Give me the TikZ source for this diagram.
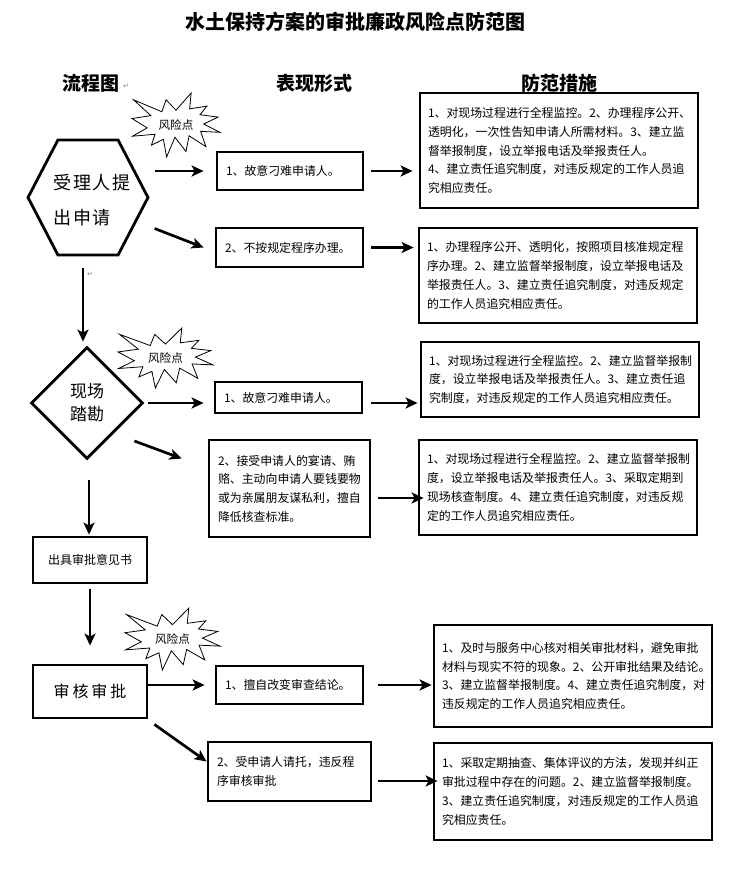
\documentclass[tikz,border=0pt]{standalone}
\usepackage{fontspec}
\setmainfont{Noto Sans CJK SC}
\newfontfamily\markfont{DejaVu Sans}
\usepackage{tikz}
\usetikzlibrary{arrows.meta}
\usetikzlibrary{positioning}
\usetikzlibrary{shapes.geometric}
\usetikzlibrary{shapes.symbols}
\newcommand{\boxfont}{\fontsize{11.9}{18.7}\selectfont}
\tikzset{flowarrow/.style = {line width = 2.7pt, -{Stealth[length=12pt, width=11pt, inset=3pt]}}}
\tikzset{measure/.style = {draw, line width = 2.8pt, inner xsep = 8pt, inner ysep = 0pt,
                           text width = 262pt, minimum width = 278pt, align = left, font = \boxfont}}
\tikzset{risk/.style = {draw, line width = 2.8pt, inner xsep = 9pt, inner ysep = 0pt,
                        align = left, font = \boxfont}}
\tikzset{stage/.style = {draw, line width = 2.8pt, minimum width = 114pt}}
\tikzset{header/.style = {font = \fontsize{19}{22}\selectfont\bfseries}}
\tikzset{starline/.style = {line width = 0.8pt, fill = white}}
\tikzset{retmark/.style = {font = \markfont\fontsize{7}{8}\selectfont, text = gray}}

% explosion shape with its label
\newcommand{\riskstar}[4]{%
  \begin{scope}[shift = {#2}, xscale = #3, yscale = #4]
    \draw [starline] plot coordinates {(0, -0.231) (-0.113, -0.394) (-0.161, -0.207) (-0.483, -0.394)
      (-0.286, -0.147) (-0.5, -0.101) (-0.328, 0.045) (-0.494, 0.175) (-0.238, 0.145) (-0.280, 0.316)
      (-0.143, 0.223) (-0.107, 0.5) (-0.012, 0.191) (0.113, 0.414) (0.149, 0.169) (0.340, 0.338)
      (0.280, 0.099) (0.5, 0.115) (0.315, -0.015) (0.477, -0.123) (0.273, -0.161) (0.351, -0.294)
      (0.155, -0.253) (0.172, -0.5)} -- cycle;
  \end{scope}
  \node [font = \fontsize{11.6}{13}\selectfont] (#1) at #2 {风险点};
}

\begin{document}
\begin{tikzpicture}[x = 1pt, y = -1pt]
    \fill [white] (0, 0) rectangle (728, 877);
    \useasboundingbox (0, 0) rectangle (728, 877);

    \node [font = \fontsize{20}{24}\selectfont\bfseries] (title) at (355, 22) {水土保持方案的审批廉政风险点防范图};
    \node [header] (flowhead) at (91, 83) {流程图};
    \node [retmark] (mark1) at (126, 86) {↵};
    \node [header] (riskhead) at (314, 83) {表现形式};
    \node [header] (measurehead) at (559, 83) {防范措施};

    % flow column
    \node [draw, line width = 2.8pt, signal, signal to = west and east, signal pointer angle = 125,
           minimum width = 120pt, minimum height = 115pt, inner sep = 0pt] (h) at (88, 197.5) {};
    \node [align = left, font = \fontsize{18}{35}\selectfont\addfontfeature{LetterSpace=8}] (hname) at (92, 200) {受理人提\\出申请};
    \node [retmark] (mark2) at (90, 274) {↵};
    \node [draw, line width = 2.8pt, diamond, minimum width = 112pt, minimum height = 112pt, inner sep = 0pt,
           align = center, font = \fontsize{17}{23}\selectfont] (d) at (87, 403) {现场\\踏勘};
    \node [stage, minimum height = 46pt, font = \fontsize{12}{14}\selectfont] (o) at (90, 560) {出具审批意见书};
    \node [stage, minimum height = 53pt, font = \fontsize{16}{18}\selectfont\addfontfeature{LetterSpace=18}] (a) at (90, 691.5) {审核审批};

    \riskstar{s1}{(176, 125)}{88}{64}
    \riskstar{s2}{(165.5, 358)}{95}{60}
    \riskstar{s3}{(172.5, 639)}{95}{62}

    % risk column
    \node [risk, text width = 128pt, minimum height = 38pt] (r1) at (290, 171) {1、故意刁难申请人。};
    \node [risk, text width = 129pt, minimum height = 39pt] (r2) at (289.5, 247.5) {2、不按规定程序办理。};
    \node [risk, text width = 129pt, minimum height = 31pt] (r3) at (288.5, 397.5) {1、故意刁难申请人。};
    \node [risk, text width = 143pt, minimum height = 97pt] (r4) at (289.5, 488.5) {2、接受申请人的宴请、贿\\赂、主动向申请人要钱要物\\或为亲属朋友谋私利，擅自\\降低核查标准。};
    \node [risk, text width = 129pt, minimum height = 38pt] (r5) at (289.5, 685) {1、擅自改变审查结论。};
    \node [risk, text width = 145pt, minimum height = 59pt] (r6) at (289.5, 771.5) {2、受申请人请托，违反程\\序审核审批};

    % measure column
    \node [measure, minimum height = 115pt] (m1) at (559, 150.5) {1、对现场过程进行全程监控。2、办理程序公开、\\透明化，一次性告知申请人所需材料。3、建立监\\督举报制度，设立举报电话及举报责任人。\\4、建立责任追究制度，对违反规定的工作人员追\\究相应责任。};
    \node [measure, minimum height = 95pt] (m2) at (558, 275.5) {1、办理程序公开、透明化，按照项目核准规定程\\序办理。2、建立监督举报制度，设立举报电话及\\举报责任人。3、建立责任追究制度，对违反规定\\的工作人员追究相应责任。};
    \node [measure, minimum height = 75pt] (m3) at (560, 379.5) {1、对现场过程进行全程监控。2、建立监督举报制\\度，设立举报电话及举报责任人。3、建立责任追\\究制度，对违反规定的工作人员追究相应责任。};
    \node [measure, minimum height = 95pt] (m4) at (558, 487.5) {1、对现场过程进行全程监控。2、建立监督举报制\\度，设立举报电话及举报责任人。3、采取定期到\\现场核查制度。4、建立责任追究制度，对违反规\\定的工作人员追究相应责任。};
    \node [measure, minimum height = 102pt] (m5) at (573, 676) {1、及时与服务中心核对相关审批材料，避免审批\\材料与现实不符的现象。2、公开审批结果及结论。\\3、建立监督举报制度。4、建立责任追究制度，对\\违反规定的工作人员追究相应责任。};
    \node [measure, minimum height = 97pt] (m6) at (573, 791.5) {1、采取定期抽查、集体评议的方法，发现并纠正\\审批过程中存在的问题。2、建立监督举报制度。\\3、建立责任追究制度，对违反规定的工作人员追\\究相应责任。};

    % flow arrows
    \draw [flowarrow, shorten <= 12pt, shorten >= 4pt] ([xshift = -5pt]h.south) -- ([xshift = -5pt]h.south |- d.north);
    \draw [flowarrow, shorten <= 20pt, shorten >= 1pt] ([xshift = 2pt]d.south) -- ([xshift = 2pt]d.south |- o.north);
    \draw [flowarrow, shorten <= 5pt, shorten >= 18pt] (o.south) -- (a.north);

    % to the risk boxes
    \draw [flowarrow, shorten <= 5pt, shorten >= 12pt] (h.east |- r1.west) -- (r1.west);
    \draw [flowarrow] ([shift = {(5, 31)}]h.east) -- ([xshift = -11pt]r2.west);
    \draw [flowarrow, shorten <= 4pt, shorten >= 10pt] (d.east) -- (d.east -| r3.west);
    \draw [flowarrow] ([shift = {(-10, 38)}]d.east) -- ([shift = {(-26, -30)}]r4.west);
    \draw [flowarrow, shorten >= 10pt] (a.east |- r5.west) -- (r5.west);
    \draw [flowarrow] ([shift = {(6, 5)}]a.south east) -- ([shift = {(0, -10)}]r6.west);

    % to the measure boxes
    \draw [flowarrow, shorten <= 7pt, shorten >= 6pt] (r1.east) -- (r1.east -| m1.west);
    \draw [flowarrow, shorten <= 7pt, shorten >= 4pt] (r2.east) -- (r2.east -| m2.west);
    \draw [flowarrow, shorten <= 8pt, shorten >= 2pt] (r3.east |- d.east) -- (m3.west |- d.east);
    \draw [flowarrow, shorten >= 1pt] ([shift = {(7, 9.5)}]r4.east) -- ([shift = {(7, 9.5)}]r4.east -| m4.west);
    \draw [flowarrow, shorten <= 14pt, shorten >= 1pt] (r5.east) -- (r5.east -| m5.west);
    \draw [flowarrow, shorten >= 1pt] ([shift = {(6, 9.5)}]r6.east) -- ([shift = {(6, 9.5)}]r6.east -| m6.west);
\end{tikzpicture}
\end{document}
